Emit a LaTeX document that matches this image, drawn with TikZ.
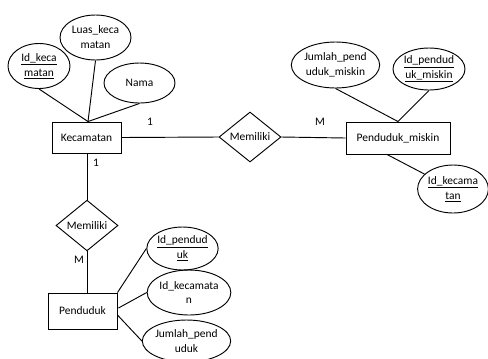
\documentclass[tikz,border=0pt]{standalone}
\usepackage{fontspec}
\setmainfont{Carlito}
\usetikzlibrary{shapes.geometric,calc}
\newcommand{\myul}[1]{\underline{#1}}
\tikzset{
  base/.style={draw, line width=0.7pt, inner sep=0pt, align=center, font=\fontsize{8.6}{11.2}\selectfont},
  entity/.style={base, rectangle},
  attr/.style={base, ellipse},
  rel/.style={base, diamond},
  conn/.style={line width=0.7pt},
  card/.style={inner sep=0pt, font=\fontsize{8.6}{11.2}\selectfont}
}
\begin{document}
\begin{tikzpicture}[x=0.75pt,y=-0.75pt]
\clip (0,0) rectangle (488,358);
\fill[white] (0,0) rectangle (488,358);
% entities
\node[entity, minimum width=51.75pt, minimum height=23.25pt] (kec) at (86.5,137.5) {Kecamatan};
\node[entity, minimum width=78pt, minimum height=24pt] (pm) at (398,138) {Penduduk\_miskin};
\node[entity, minimum width=51.75pt, minimum height=27pt] (pd) at (82.5,311) {Penduduk};
% relations
\node[rel, minimum width=46.5pt, minimum height=37.5pt] (r1) at (250,137) {Memiliki};
\node[rel, minimum width=46.5pt, minimum height=38pt] (r2) at (87,225.5) {Memiliki};
% attributes
\node[attr, minimum width=46.5pt, minimum height=33.75pt] (idk) at (39,66) {\myul{Id\_keca}\\\myul{matan}};
\node[attr, minimum width=53.25pt, minimum height=33.75pt] (luas) at (95.5,37.5) {Luas\_keca\\matan};
\node[attr, minimum width=53.25pt, minimum height=30pt] (nama) at (139.5,83) {Nama};
\node[attr, minimum width=63.75pt, minimum height=34.5pt] (jpm) at (335.5,65) {Jumlah\_pend\\uduk\_miskin};
\node[attr, minimum width=54pt, minimum height=31.5pt] (idpm) at (429,69) {\myul{Id\_pendud}\\\myul{uk\_miskin}};
\node[attr, minimum width=52.5pt, minimum height=36pt] (ikr) at (453,189) {\myul{Id\_kecama}\\\myul{tan}};
\node[attr, minimum width=51.75pt, minimum height=32.25pt] (idp) at (182.5,248.5) {\myul{Id\_pendud}\\\myul{uk}};
\node[attr, minimum width=61.5pt, minimum height=33.75pt] (idkc) at (189,292.5) {Id\_kecamata\\n};
\node[attr, minimum width=65.25pt, minimum height=31.5pt] (jp) at (186.5,341) {Jumlah\_pend\\uduk};
% attribute connectors
\draw[conn] (idk.south) -- ($(kec.north)+(1.5,0)$);
\draw[conn] (luas.south) -- ($(kec.north)+(1.5,0)$);
\draw[conn] (nama.south) -- ($(kec.north)+(1.5,0)$);
\draw[conn] (jpm.south) -- (pm.north);
\draw[conn] (idpm.south) -- (pm.north);
\draw[conn] ($(pm.south)+(-11,0)$) -- (ikr);
\draw[conn] (pd.north east) -- (idp.west);
\draw[conn] ($(pd.east)+(1,-3)$) -- (idkc.west);
\draw[conn] ($(pd.east)+(0,4)$) -- (jp.west);
% relationship connectors
\draw[conn] (kec.east) -- (r1.west);
\draw[conn] (r1.east) -- (pm.west);
\draw[conn] (r2.north |- kec.south) -- (r2.north);
\draw[conn] (r2.south) -- (r2.south |- pd.north);
% cardinalities
\node[card] (c1) at (150,122) {1};
\node[card] (c2) at (320,122) {M};
\node[card] (c3) at (96,163) {1};
\node[card] (c4) at (79,260) {M};
\end{tikzpicture}
\end{document}
